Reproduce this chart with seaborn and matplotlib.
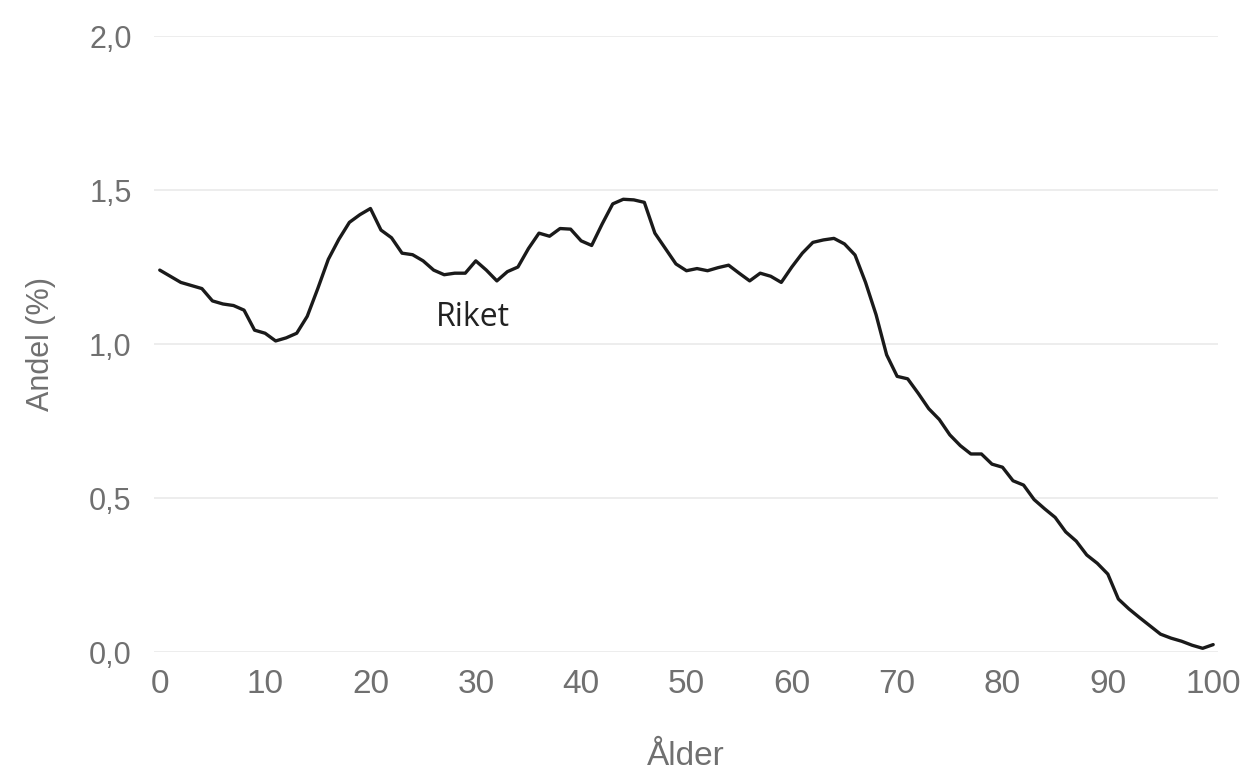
import pandas as pd
import matplotlib
matplotlib.use("Agg")
import matplotlib.pyplot as plt
from matplotlib.ticker import FuncFormatter, MultipleLocator
import seaborn as sns

# Data: share of population (%) by age
ages = list(range(0, 101))
andel = [
    1.24, 1.22, 1.20, 1.19, 1.18, 1.14, 1.13, 1.125, 1.11, 1.045,   # 0-9
    1.035, 1.01, 1.02, 1.035, 1.09, 1.18, 1.275, 1.34, 1.395, 1.42,  # 10-19
    1.44, 1.37, 1.345, 1.295, 1.29, 1.27, 1.24, 1.225, 1.23, 1.23,   # 20-29
    1.27, 1.24, 1.205, 1.235, 1.25, 1.31, 1.36, 1.35, 1.375, 1.373,  # 30-39
    1.335, 1.32, 1.39, 1.455, 1.47, 1.468, 1.46, 1.36, 1.31, 1.26,   # 40-49
    1.238, 1.245, 1.238, 1.248, 1.256, 1.23, 1.205, 1.23, 1.22, 1.20,  # 50-59
    1.25, 1.295, 1.33, 1.338, 1.343, 1.325, 1.289, 1.20, 1.095, 0.965,  # 60-69
    0.895, 0.887, 0.84, 0.79, 0.755, 0.705, 0.67, 0.643, 0.643, 0.61,  # 70-79
    0.60, 0.556, 0.542, 0.495, 0.465, 0.437, 0.39, 0.36, 0.315, 0.288,  # 80-89
    0.253, 0.172, 0.14, 0.112, 0.085, 0.058, 0.045, 0.035, 0.022, 0.012,  # 90-99
    0.024,  # 100
]
series_label = "Riket"

df = pd.DataFrame({"Ålder": ages, "Andel": andel})

sns.set_style("white")
plt.rcParams["font.family"] = ["Liberation Sans", "DejaVu Sans"]

fig = plt.figure(figsize=(12.6, 7.75), dpi=100)
ax = fig.add_axes([0.1222, 0.1587, 0.8444, 0.7948])

sns.lineplot(data=df, x="Ålder", y="Andel", color="#1a1a1a", linewidth=2.4, ax=ax)

# label on the line
ax.text(29.7, 1.085, series_label, fontsize=23, color="#222222",
        ha="center", va="center", family=["Open Sans", "DejaVu Sans"])

ax.set_xlim(-0.55, 100.45)
ax.set_ylim(0, 2.0)
ax.xaxis.set_major_locator(MultipleLocator(10))
ax.yaxis.set_major_locator(MultipleLocator(0.5))
ax.yaxis.set_major_formatter(FuncFormatter(lambda v, p: f"{v:.1f}".replace(".", ",")))

ax.grid(axis="y", color="#ececec", linewidth=1.3)
ax.set_axisbelow(True)
for s in ax.spines.values():
    s.set_visible(False)

ax.tick_params(axis="y", length=0, pad=16, labelsize=22, labelcolor="#707070")
ax.tick_params(axis="x", length=0, pad=12, labelsize=24, labelcolor="#707070")

ax.set_xlabel("Ålder", fontsize=24, color="#707070", labelpad=30)
ax.set_ylabel("Andel (%)", fontsize=22, color="#707070", labelpad=24)

fig.savefig("out.png", dpi=100)
